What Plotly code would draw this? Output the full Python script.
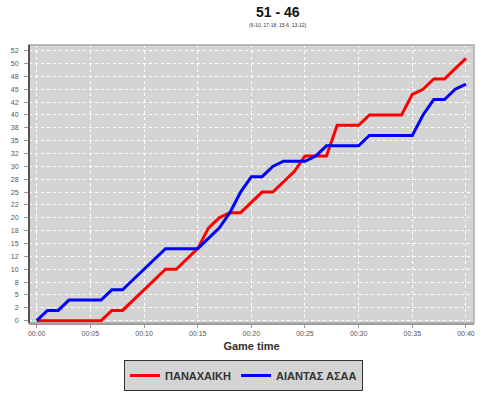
import plotly.graph_objects as go

minutes = list(range(0, 41))
panachaiki = [0, 0, 0, 0, 0, 0, 0, 2, 2, 4, 6, 8, 10, 10, 12, 14, 18, 20, 21, 21,
              23, 25, 25, 27, 29, 32, 32, 32, 38, 38, 38, 40, 40, 40, 40, 44, 45, 47, 47, 49, 51]
aiantas = [0, 2, 2, 4, 4, 4, 4, 6, 6, 8, 10, 12, 14, 14, 14, 14, 16, 18, 21, 25,
           28, 28, 30, 31, 31, 31, 32, 34, 34, 34, 34, 36, 36, 36, 36, 36, 40, 43, 43, 45, 46]

x_tickvals = [0, 5, 10, 15, 20, 25, 30, 35, 40]
x_ticktext = ["00:00", "00:05", "00:10", "00:15", "00:20", "00:25", "00:30", "00:35", "00:40"]
y_tickvals = [i * 2.5 for i in range(22)]
y_ticktext = ["0", "2", "5", "8", "10", "12", "15", "18", "20", "22", "25", "28", "30",
              "32", "35", "38", "40", "42", "45", "48", "50", "52"]

title_text = "51 - 46"
subtitle_text = "(6-10, 17-18, 15-6, 13-12)"

FONT = "Liberation Sans, Arial, sans-serif"

fig = go.Figure()
fig.add_trace(go.Scatter(x=minutes, y=panachaiki, mode="lines", name="ΠΑΝΑΧΑΙΚΗ",
                         line=dict(color="#ff0000", width=3)))
fig.add_trace(go.Scatter(x=minutes, y=aiantas, mode="lines", name="ΑΙΑΝΤΑΣ ΑΣΑΑ",
                         line=dict(color="#0000ff", width=3)))

fig.update_layout(
    width=496, height=394,
    margin=dict(l=29, r=22, t=45, b=71, autoexpand=False),
    paper_bgcolor="white",
    plot_bgcolor="#d4d4d4",
    font=dict(family=FONT, color="#444"),
    showlegend=True,
    legend=dict(orientation="h", x=0.482, xanchor="center", y=-0.133, yanchor="top",
                bgcolor="#d4d4d4", bordercolor="#333", borderwidth=1,
                font=dict(family=FONT, size=11, color="#333", weight="bold"),
                itemwidth=30, tracegroupgap=0),
    xaxis=dict(range=[-0.72, 40.75], tickvals=x_tickvals, ticktext=x_ticktext,
               showgrid=True, gridcolor="white", griddash="dot", gridwidth=1,
               zeroline=False, showline=True, linecolor="#9a9a9a", linewidth=2,
               ticks="outside", ticklen=3, tickcolor="#9a9a9a", automargin=False,
               tickfont=dict(size=7, color="#555"),
               title=dict(text="Game time", font=dict(size=11, color="#333", weight="bold"),
                          standoff=6)),
    yaxis=dict(range=[-0.45, 53.6], tickvals=y_tickvals, ticktext=y_ticktext,
               showgrid=True, gridcolor="white", griddash="dot", gridwidth=1,
               zeroline=False, showline=False, automargin=False,
               ticks="outside", ticklen=4, tickcolor="#9a9a9a",
               ticklabelstandoff=4,
               tickfont=dict(size=7, color="#555")),
)

# plot border
fig.add_shape(type="rect", xref="paper", yref="paper", x0=0, y0=0, x1=1, y1=1,
              line=dict(color="#a8a8a8", width=1.5), layer="above")
fig.add_shape(type="line", xref="paper", yref="paper", x0=0, y0=0, x1=0, y1=1,
              line=dict(color="#333", width=1.5), layer="above")

fig.add_annotation(text=title_text, xref="paper", yref="paper", x=0.5596, y=1.119,
                   xanchor="center", yanchor="middle", showarrow=False,
                   font=dict(family=FONT, size=14, color="#111", weight="bold"))
fig.add_annotation(text=subtitle_text, xref="paper", yref="paper", x=0.5596, y=1.071,
                   xanchor="center", yanchor="middle", showarrow=False,
                   font=dict(family=FONT, size=5, color="#333"))

fig.write_html("out.html", config={"displayModeBar": False},
               post_script="document.body.style.margin='0';")
